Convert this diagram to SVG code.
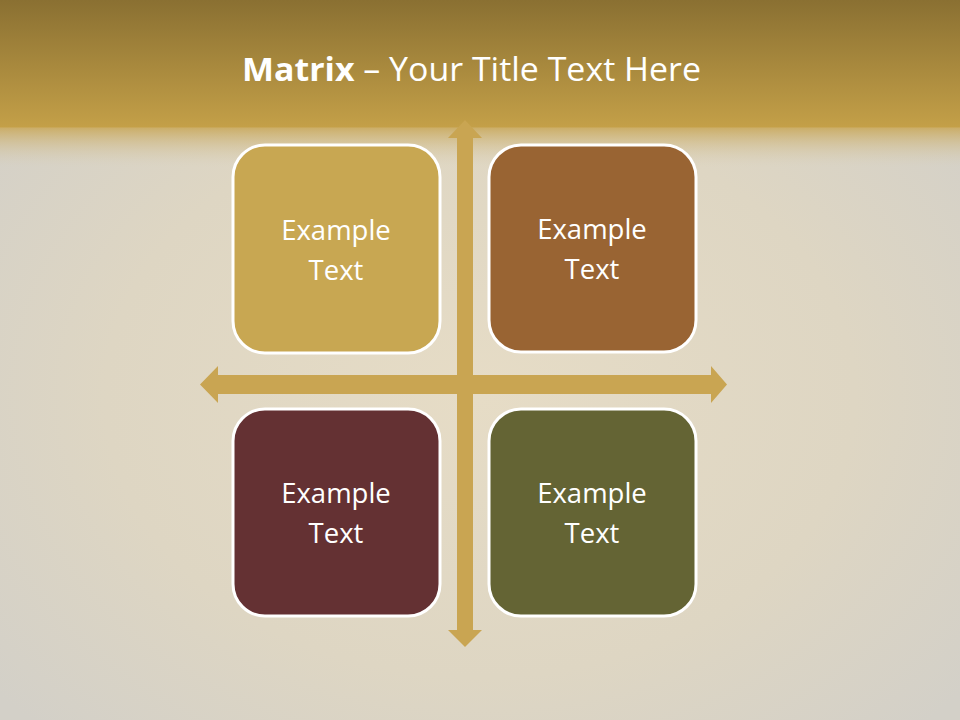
<svg xmlns="http://www.w3.org/2000/svg" width="960" height="720" viewBox="0 0 960 720">
<defs>
<linearGradient id="hdr" x1="0" y1="0" x2="0" y2="1">
<stop offset="0" stop-color="#8A7032"/>
<stop offset="1" stop-color="#C4A048"/>
</linearGradient>
<linearGradient id="fade" x1="0" y1="0" x2="0" y2="1">
<stop offset="0" stop-color="#C9A85A" stop-opacity="0.9"/>
<stop offset="1" stop-color="#D8CDB0" stop-opacity="0"/>
</linearGradient>
<radialGradient id="bg" cx="0.5" cy="0.55" r="0.65">
<stop offset="0" stop-color="#E6DCC6"/>
<stop offset="0.6" stop-color="#DED6C3"/>
<stop offset="1" stop-color="#D3D0C8"/>
</radialGradient>
<style>
.box{stroke:#FFFFFF;stroke-width:3}
.lbl{font-family:"Open Sans","Liberation Sans",sans-serif;font-size:27.5px;fill:#FFFFFF;text-anchor:middle}
.arrow{fill:#C9A552}
</style>
</defs>
<rect x="0" y="0" width="960" height="720" fill="url(#bg)"/>
<rect x="0" y="0" width="960" height="128" fill="url(#hdr)"/>
<rect x="0" y="127" width="960" height="40" fill="url(#fade)"/>
<text x="471.5" y="81" font-family="Open Sans,Liberation Sans,sans-serif" font-size="33" fill="#FFFFFF" text-anchor="middle" textLength="459" lengthAdjust="spacingAndGlyphs"><tspan font-weight="bold">Matrix</tspan> – Your Title Text Here</text>
<g id="connectors">
<path class="arrow" d="M465,120 L482,138 L473,138 L473,375 L711,375 L711,366 L727,384.5 L711,403 L711,394 L473,394 L473,630 L482,630 L465,647 L448,630 L457,630 L457,394 L218,394 L218,403 L200,384.5 L218,366 L218,375 L457,375 L457,138 L448,138 Z"/>
</g>
<g id="node-tl">
<rect class="box" x="233" y="145" width="207" height="208" rx="32" fill="#C8A752"/>
<text class="lbl" x="336" y="240">Example</text>
<text class="lbl" x="336" y="280">Text</text>
</g>
<g id="node-tr">
<rect class="box" x="489" y="145" width="207" height="207" rx="32" fill="#996433"/>
<text class="lbl" x="592" y="239">Example</text>
<text class="lbl" x="592" y="279">Text</text>
</g>
<g id="node-bl">
<rect class="box" x="233" y="409" width="207" height="207" rx="32" fill="#643133"/>
<text class="lbl" x="336" y="503">Example</text>
<text class="lbl" x="336" y="543">Text</text>
</g>
<g id="node-br">
<rect class="box" x="489" y="409" width="207" height="207" rx="32" fill="#646434"/>
<text class="lbl" x="592" y="503">Example</text>
<text class="lbl" x="592" y="543">Text</text>
</g>
</svg>
